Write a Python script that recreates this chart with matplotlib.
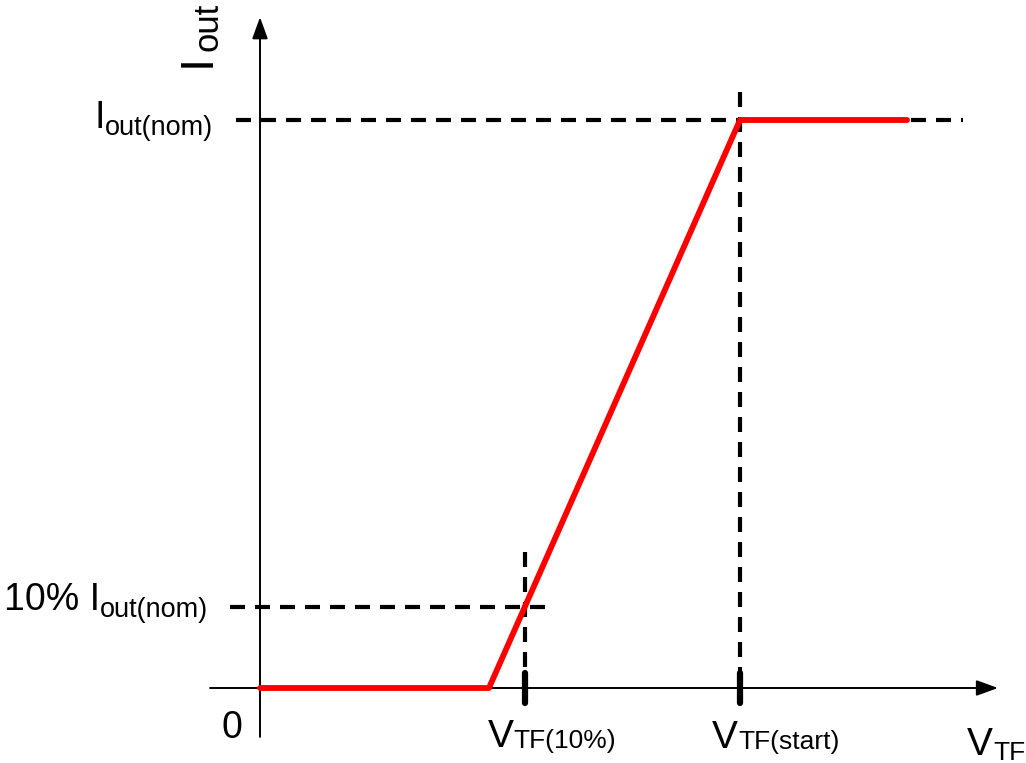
import matplotlib
matplotlib.use("Agg")
import matplotlib.pyplot as plt
from matplotlib.transforms import Affine2D

plt.rcParams['font.family'] = ['Liberation Sans', 'DejaVu Sans']

# curva Iout x VTF (normalizada: VTF(start) = 1, Iout(nom) = 1)
v_curva = [0.0, 0.477, 1.0, 1.348]
i_curva = [0.0, 0.0, 1.0, 1.0]

# pontos de referencia
v_10 = 0.552      # VTF(10%)
v_start = 1.0     # VTF(start)
i_nom = 1.0       # Iout(nom)
i_10 = 0.143      # 10% Iout(nom) (fora de escala no desenho)

fig = plt.figure(figsize=(10.26, 7.63), dpi=100)
ax = fig.add_axes([0, 0, 1, 1])
ax.set_xlim(-260 / 480, (1026 - 260) / 480)
ax.set_ylim(-75 / 568, (763 - 75) / 568)
ax.axis('off')

# eixos com seta
seta = dict(arrowstyle='-|>,head_length=0.55,head_width=0.2', color='black',
            lw=1.4, mutation_scale=24, shrinkA=0, shrinkB=0)
ax.annotate('', xy=(0, 1.181), xytext=(0, -0.086), arrowprops=seta)
ax.annotate('', xy=(1.5375, 0), xytext=(-0.104, 0), arrowprops=seta)

# linhas tracejadas
tracejado = dict(color='black', lw=3, dashes=(3.6, 2.4), dash_capstyle='butt')
ax.plot([-0.05, 1.465], [i_nom, i_nom], **tracejado)
ax.plot([-0.0625, 0.608], [i_10, i_10], **tracejado)
ax.plot([v_start, v_start], [1.049, -0.026], **tracejado)
ax.plot([v_10, v_10], [0.239, -0.026], **tracejado)

# marcas grossas no eixo x
for v in [v_10, v_start]:
    ax.plot([v, v], [-0.026, 0.026], color='black', lw=4.5, solid_capstyle='round')

# curva vermelha
ax.plot(v_curva, i_curva, color='#ff0000', lw=4.2, solid_capstyle='round',
        solid_joinstyle='round', zorder=5)

renderer = fig.canvas.get_renderer()


# texto principal + subscrito (desce = quanto o subscrito baixa, em pixels)
def rotulo(x, y, principal, sub, fs, fs_sub, desce, gap=0, rot=0, ha='left'):
    t1 = ax.text(x, y, principal, fontsize=fs, ha='left', va='baseline',
                 rotation=rot, rotation_mode='anchor')
    t2 = ax.text(x, y, sub, fontsize=fs_sub, ha='left', va='baseline',
                 rotation=rot, rotation_mode='anchor')
    b1 = t1.get_window_extent(renderer)
    b2 = t2.get_window_extent(renderer)
    if rot == 0:
        w1, w2 = b1.width, b2.width
    else:
        w1, w2 = b1.height, b2.height
    desloc = -(w1 + gap + w2) if ha == 'right' else 0
    if rot == 0:
        t1.set_transform(ax.transData + Affine2D().translate(desloc, 0))
        t2.set_transform(ax.transData + Affine2D().translate(desloc + w1 + gap, -desce))
    else:
        t1.set_transform(ax.transData + Affine2D().translate(0, desloc))
        t2.set_transform(ax.transData + Affine2D().translate(desce, desloc + w1 + gap))


rotulo(-0.098, 0.986, 'I', 'out(nom)', 27, 19.5, 7, ha='right')
rotulo(-0.108, 0.137, '10% I', 'out(nom)', 27, 19.5, 7, ha='right')
ax.text(-0.058, -0.088, '0', fontsize=27, ha='center', va='baseline')
rotulo(0.475, -0.104, 'V', 'TF(10%)', 28, 19, 1)
rotulo(0.942, -0.106, 'V', 'TF(start)', 28, 19, 1)
rotulo(1.473, -0.118, 'V', 'TF', 28, 19, 5)
rotulo(-0.104, 1.093, 'I', 'out', 34, 25, 7, gap=3, rot=90)

fig.savefig('out.png', dpi=100)
